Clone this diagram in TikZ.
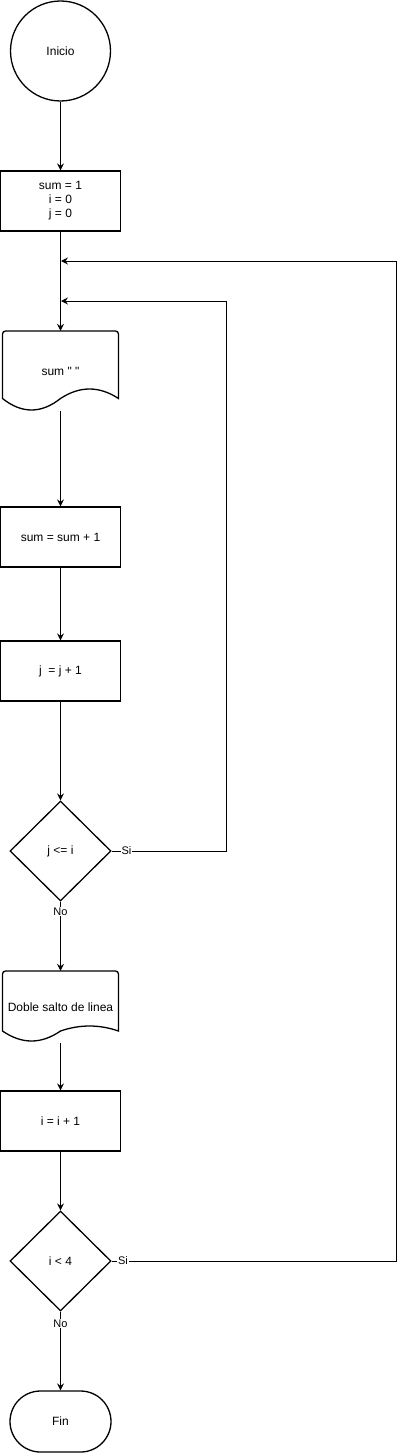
\documentclass[tikz,border=0pt]{standalone}
\usepackage{fontspec}
\setmainfont{Liberation Sans}
\newfontfamily\qfont{Liberation Sans}[Ligatures=TeXOff]
\usetikzlibrary{arrows.meta,shapes.geometric,shapes.misc}
\begin{document}
\begin{tikzpicture}[x=1pt,y=-1pt,
  every node/.style={font=\fontsize{12}{14}\selectfont},
  base/.style={draw,line width=1.3pt,inner sep=0pt,align=center},
  proc/.style={base,rectangle,minimum width=120pt,minimum height=60pt},
  startc/.style={base,circle,minimum size=100pt},
  decis/.style={base,diamond,minimum width=101pt,minimum height=100pt},
  docbox/.style={rectangle,inner sep=0pt,minimum width=116pt,align=center},
  term/.style={base,rounded rectangle,minimum width=101pt,minimum height=61pt},
  wire/.style={line width=1pt},
  arr/.style={wire,-{Stealth[length=7pt,width=7pt,inset=2.5pt]}},
  lbl/.style={fill=white,inner sep=1pt,font=\fontsize{11}{13}\selectfont},
  docline/.style={line width=1.3pt}
]
\useasboundingbox (0,0) rectangle (405,1453);

\node[startc] (inicio) at (60.5,51) {Inicio};
\node[proc] (init) at (60.5,201) {sum = 1\\i = 0\\j = 0};
\node[docbox,minimum height=80pt] (doc1) at (60.5,371) {sum {\qfont " "}};
\node[proc] (sum1) at (60.5,537) {sum = sum + 1};
\node[proc] (jinc) at (60.5,671) {j\ \ = j + 1};
\node[decis] (dec1) at (60.5,851) {j <= i};
\node[docbox,minimum height=72pt] (doc2) at (60.5,1007) {Doble salto de linea};
\node[proc] (iinc) at (60.5,1121) {i = i + 1};
\node[decis] (dec2) at (60.5,1261) {i < 4};
\node[term] (fin) at (60.5,1421.5) {Fin};

% document outlines
\draw[docline] (2.5,398.5) [rounded corners=3pt]-- (2.5,331) -- (118.5,331) [sharp corners]-- (118.5,398.5)
  .. controls (99.17,385.83) and (79.83,385.83) .. (60.5,398.5)
  .. controls (41.17,413.83) and (21.83,413.83) .. (2.5,398.5) -- cycle;
\draw[docline] (2.5,1031) [rounded corners=3pt]-- (2.5,971) -- (118.5,971) [sharp corners]-- (118.5,1031)
  .. controls (99.17,1024.33) and (79.83,1024.33) .. (60.5,1031)
  .. controls (41.17,1044.33) and (21.83,1044.33) .. (2.5,1031) -- cycle;

\coordinate (j1) at (61,301);
\coordinate (j2) at (61,261);
\coordinate (c1a) at (226,851);
\coordinate (c1b) at (226,301);
\coordinate (c2a) at (396,1261);
\coordinate (c2b) at (396,261);

\draw[arr] (inicio) -- (init);
\draw[arr] (init) -- (doc1);
\draw[arr] (doc1) -- (sum1);
\draw[arr] (sum1) -- (jinc);
\draw[arr] (jinc) -- (dec1);
\draw[arr] (dec1.south) -- node[lbl,pos=0.143]{No} (doc2.north);
\draw[arr] (doc2) -- (iinc);
\draw[arr] (iinc) -- (dec2);
\draw[arr] (dec2.south) -- node[lbl,pos=0.15]{No} (fin.north);

\draw[arr] (dec1.east) -- node[lbl,pos=0.13]{Si} (c1a) -- (c1b) -- (j1);
\draw[arr] (dec2.east) -- node[lbl,pos=0.04]{Si} (c2a) -- (c2b) -- (j2);
\end{tikzpicture}
\end{document}
